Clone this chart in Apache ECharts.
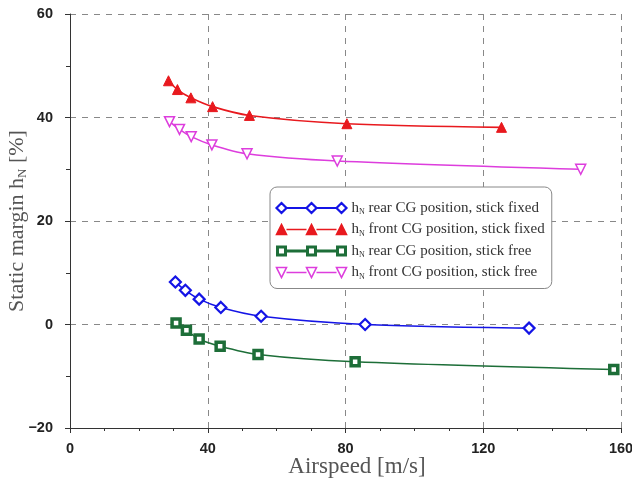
<!DOCTYPE html>
<html>
<head>
<meta charset="utf-8">
<script src="https://cdn.jsdelivr.net/npm/echarts@6/dist/echarts.min.js"></script>
<style>
    html, body { margin: 0; padding: 0; background: #fff; }
    #J_chart { width: 632px; height: 484px; }
</style>
</head>
<body>
<div id="J_chart"></div>
<script>
// airspeed [m/s] and static margin [%] for each configuration
var rearFixedX = [30.6, 33.5, 37.5, 43.8, 55.5, 85.7, 133.3];
var rearFixedY = [8.2, 6.6, 4.9, 3.3, 1.6, 0.0, -0.7];
var frontFixedX = [28.6, 31.2, 35.1, 41.4, 52.1, 80.4, 125.3];
var frontFixedY = [47.1, 45.4, 43.8, 42.1, 40.4, 38.8, 38.1];
var rearFreeX = [30.8, 33.8, 37.5, 43.6, 54.6, 82.8, 157.9];
var rearFreeY = [0.3, -1.1, -2.8, -4.2, -5.8, -7.2, -8.7];
var frontFreeX = [28.9, 31.8, 35.2, 41.2, 51.4, 77.6, 148.3];
var frontFreeY = [39.2, 37.7, 36.3, 34.7, 33.0, 31.6, 30.0];

var seriesNames = [
    'rear CG position, stick fixed',
    'front CG position, stick fixed',
    'rear CG position, stick free',
    'front CG position, stick free'
];

var colors = ['#1414e6', '#e8191e', '#1d6e38', '#dd3ddd'];

function pairs(xs, ys) {
    var out = [];
    for (var i = 0; i < xs.length; i++) out.push([xs[i], ys[i]]);
    return out;
}

function minus(v) {
    return String(v).replace('-', '\u2212');
}

// legend icon: three markers joined by a line, 70x10 box
function legendIcon(marker) {
    var cx = [5, 35, 65];
    var d = 'M10 5L30 5M40 5L60 5';
    cx.forEach(function (c) {
        if (marker === 'diamond') d += 'M' + (c - 5) + ' 5L' + c + ' 0L' + (c + 5) + ' 5L' + c + ' 10Z';
        if (marker === 'up') d += 'M' + (c - 5) + ' 10L' + c + ' 0L' + (c + 5) + ' 10Z';
        if (marker === 'down') d += 'M' + (c - 5) + ' 0L' + (c + 5) + ' 0L' + c + ' 10Z';
        if (marker === 'square') d += 'M' + (c - 4) + ' 1L' + (c + 4) + ' 1L' + (c + 4) + ' 9L' + (c - 4) + ' 9Z';
    });
    return 'path://M0 0' + d + 'M70 10';
}

var chart = echarts.init(document.getElementById('J_chart'));

var serif = '"Liberation Serif", "DejaVu Serif", serif';
var sans = '"Liberation Sans", Arial, sans-serif';

function lineSeries(idx, data, symbol, opts) {
    var color = colors[idx];
    return {
        name: seriesNames[idx],
        type: 'line',
        data: data,
        smooth: 0.3,
        symbol: symbol,
        symbolSize: opts.size,
        symbolRotate: opts.rotate || 0,
        showAllSymbol: true,
        lineStyle: {color: color, width: 1.6},
        itemStyle: {
            color: opts.fill,
            borderColor: color,
            borderWidth: opts.border
        },
        emphasis: {disabled: true},
        z: 3
    };
}

var legendData = [
    {name: seriesNames[0], icon: legendIcon('diamond'), itemStyle: {color: '#fff', borderColor: colors[0], borderWidth: 2.2}},
    {name: seriesNames[1], icon: legendIcon('up'), itemStyle: {color: colors[1], borderColor: colors[1], borderWidth: 1.6}},
    {name: seriesNames[2], icon: legendIcon('square'), itemStyle: {color: '#fff', borderColor: colors[2], borderWidth: 3}},
    {name: seriesNames[3], icon: legendIcon('down'), itemStyle: {color: '#fff', borderColor: colors[3], borderWidth: 1.6}}
];

var option = {
    animation: false,
    backgroundColor: '#fff',
    grid: {left: 70, right: 11, top: 14, bottom: 56, outerBoundsMode: 'none', containLabel: false},
    legend: {
        orient: 'vertical',
        left: 270,
        top: 187,
        padding: [13, 7, 8, 5],
        itemWidth: 70,
        itemHeight: 10,
        itemGap: 5.5,
        symbolKeepAspect: false,
        backgroundColor: '#fff',
        borderColor: '#888',
        borderWidth: 1,
        borderRadius: 7,
        data: legendData,
        formatter: function (name) {
            return '{h|h}{n|N} {t|' + name + '}';
        },
        textStyle: {
            fontFamily: serif,
            fontSize: 15,
            lineHeight: 16,
            color: '#333',
            rich: {
                h: {fontFamily: serif, fontSize: 15, color: '#333'},
                n: {fontFamily: serif, fontSize: 8, color: '#333', verticalAlign: 'bottom', padding: [7, 0, 0, 0]},
                t: {fontFamily: serif, fontSize: 15, color: '#333'}
            }
        }
    },
    xAxis: {
        type: 'value',
        min: 0,
        max: 160,
        interval: 40,
        name: 'Airspeed [m/s]',
        nameLocation: 'middle',
        nameGap: 27,
        nameMoveOverlap: false,
        nameTextStyle: {fontFamily: serif, fontSize: 23, color: '#555', padding: [0, 0, 0, 23]},
        axisLine: {onZero: false, lineStyle: {color: '#333', width: 1}},
        axisTick: {show: true, inside: false, length: 5, lineStyle: {color: '#333'}},
        minorTick: {show: true, splitNumber: 4, length: 3, lineStyle: {color: '#333'}},
        axisLabel: {fontFamily: sans, fontWeight: 'bold', fontSize: 14.5, color: '#222', margin: 13},
        splitLine: {show: true, lineStyle: {color: '#888', type: [6, 6], width: 1}}
    },
    yAxis: {
        type: 'value',
        min: -20,
        max: 60,
        interval: 20,
        name: '{a|Static margin h}{b|N}{a| [%]}',
        nameLocation: 'middle',
        nameGap: 41,
        nameMoveOverlap: false,
        nameTextStyle: {
            fontFamily: serif,
            fontSize: 22,
            color: '#555',
            rich: {
                a: {fontFamily: serif, fontSize: 22, color: '#555'},
                b: {fontFamily: serif, fontSize: 13, color: '#555', verticalAlign: 'bottom', padding: [10, 0, 0, 0]}
            }
        },
        axisLine: {onZero: false, lineStyle: {color: '#333', width: 1}},
        axisTick: {show: true, inside: false, length: 5, lineStyle: {color: '#333'}},
        minorTick: {show: true, splitNumber: 2, length: 4, lineStyle: {color: '#333'}},
        axisLabel: {
            fontFamily: sans, fontWeight: 'bold', fontSize: 14.5, color: '#222', margin: 17,
            formatter: minus
        },
        splitLine: {show: true, lineStyle: {color: '#888', type: [6, 6], width: 1}}
    },
    series: [
        lineSeries(0, pairs(rearFixedX, rearFixedY), 'diamond', {size: 11, fill: '#fff', border: 2.2}),
        lineSeries(1, pairs(frontFixedX, frontFixedY), 'triangle', {size: 10, fill: colors[1], border: 1}),
        lineSeries(2, pairs(rearFreeX, rearFreeY), 'rect', {size: 8, fill: '#fff', border: 3.5}),
        lineSeries(3, pairs(frontFreeX, frontFreeY), 'triangle', {size: 10, fill: '#fff', border: 1.5, rotate: 180})
    ]
};

chart.setOption(option);
</script>
</body>
</html>
